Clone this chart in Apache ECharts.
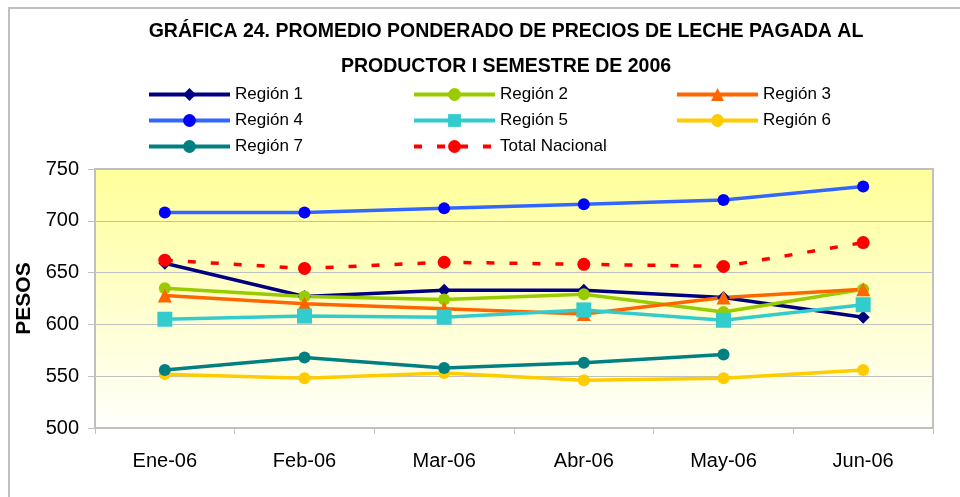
<!DOCTYPE html>
<html>
<head>
<meta charset="utf-8">
<script src="https://cdn.jsdelivr.net/npm/echarts@6/dist/echarts.min.js"></script>
<style>
  html, body { margin: 0; padding: 0; background: #fff; }
  #chart { width: 960px; height: 497px; }
</style>
</head>
<body>
<div id="chart"></div>
<script>
// months of the first half of 2006
const months = ["Ene-06", "Feb-06", "Mar-06", "Abr-06", "May-06", "Jun-06"];
const yTicks = [500, 550, 600, 650, 700, 750];

// pesos per liter
const region1 = [659, 627, 633, 633, 626, 607];
const region2 = [635, 627, 624, 629, 612, 634];
const region3 = [628, 620, 615, 610, 626, 634];
const region4 = [708, 708, 712, 716, 720, 733];
const region5 = [605, 608, 607, 614, 604, 619];
const region6 = [552, 548, 553, 546, 548, 556];
const region7 = [556, 568, 558, 563, 571, null];
const totalNacional = [662, 654, 660, 658, 656, 679];

const font = "'Liberation Sans', Arial, sans-serif";

function line(name, data, color, symbol, size, markColor, dash) {
  return {
    name: name,
    type: "line",
    data: data,
    symbol: symbol,
    symbolSize: size,
    showAllSymbol: true,
    connectNulls: false,
    lineStyle: { color: color, width: 3.5, type: dash || "solid" },
    itemStyle: { color: markColor || color, borderWidth: 0 },
    emphasis: { disabled: true }
  };
}

// legend is three vertical columns, like the spreadsheet layout
function legendCol(left, names) {
  return {
    orient: "vertical",
    left: left,
    top: 81,
    itemWidth: 81,
    itemHeight: 16,
    itemGap: 9,
    data: names,
    lineStyle: { width: 4 },
    textStyle: { fontFamily: font, fontSize: 17, color: "#000" }
  };
}

const chart = echarts.init(document.getElementById("chart"));
chart.setOption({
  animation: false,
  backgroundColor: "#fff",
  title: {
    text: "GRÁFICA 24. PROMEDIO PONDERADO DE PRECIOS DE LECHE PAGADA AL\nPRODUCTOR I SEMESTRE DE 2006",
    left: 501,
    textAlign: "center",
    top: 9,
    textStyle: { fontFamily: font, fontSize: 19.5, fontWeight: "bold", color: "#000", lineHeight: 35 }
  },
  legend: [
    legendCol(142, ["Región 1", "Región 4", "Región 7"]),
    legendCol(407, ["Región 2", "Región 5", "Total Nacional"]),
    legendCol(670, ["Región 3", "Región 6"])
  ],
  graphic: [{
    type: "rect",
    shape: { x: 9, y: 8, width: 970, height: 510 },
    style: { fill: null, stroke: "#c0c0c0", lineWidth: 2 },
    silent: true
  }],
  grid: {
    left: 95, right: 27, top: 169, bottom: 69,
    show: true,
    borderColor: "#c0c0c0",
    borderWidth: 2,
    backgroundColor: new echarts.graphic.LinearGradient(0, 0, 0, 1, [
      { offset: 0, color: "#ffff99" },
      { offset: 1, color: "#fffffc" }
    ])
  },
  xAxis: {
    type: "category",
    data: months,
    boundaryGap: true,
    axisLine: { lineStyle: { color: "#c0c0c0", width: 2 } },
    axisTick: { show: true, length: 6, alignWithLabel: false, lineStyle: { color: "#c0c0c0" } },
    axisLabel: { fontFamily: font, fontSize: 20, color: "#000", margin: 23 }
  },
  yAxis: {
    type: "value",
    min: yTicks[0],
    max: yTicks[yTicks.length - 1],
    interval: 50,
    name: "PESOS",
    nameLocation: "middle",
    nameGap: 58,
    nameRotate: 90,
    nameTextStyle: { fontFamily: font, fontSize: 21, fontWeight: "bold", color: "#000" },
    axisLine: { show: true, lineStyle: { color: "#c0c0c0", width: 2 } },
    axisTick: { show: true, length: 7, lineStyle: { color: "#c0c0c0" } },
    axisLabel: { fontFamily: font, fontSize: 20, color: "#000", margin: 16 },
    splitLine: { lineStyle: { color: "#c0c0c0", width: 1 } }
  },
  series: [
    line("Región 1", region1, "#000080", "diamond", 13),
    line("Región 2", region2, "#99cc00", "circle", 12),
    line("Región 3", region3, "#ff6600", "triangle", 14),
    line("Región 4", region4, "#3366ff", "circle", 12, "#0000ff"),
    line("Región 5", region5, "#33cccc", "rect", 15),
    line("Región 6", region6, "#ffcc00", "circle", 12),
    line("Región 7", region7, "#008080", "circle", 12),
    line("Total Nacional", totalNacional, "#ff0000", "circle", 13, "#ff0000", [8, 15])
  ]
});
</script>
</body>
</html>
